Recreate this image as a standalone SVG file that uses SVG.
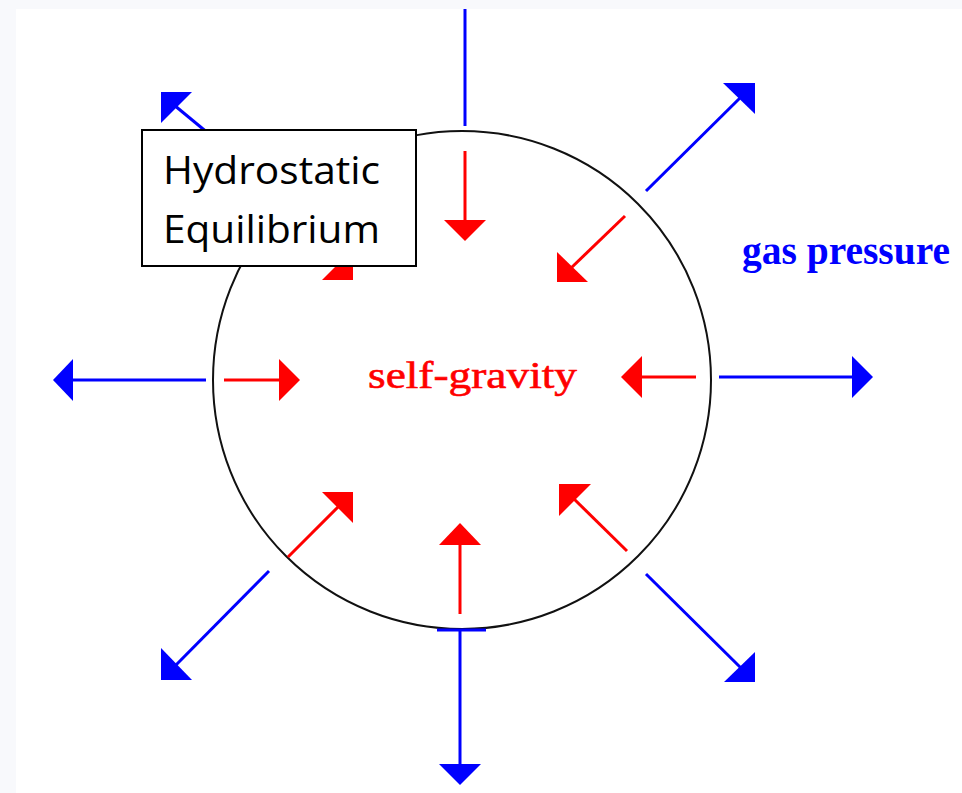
<svg xmlns="http://www.w3.org/2000/svg" width="962" height="793" viewBox="0 0 962 793">
<defs>
<style>
.blue{stroke:#0000ff;stroke-width:3;fill:none}
.red{stroke:#ff0000;stroke-width:3;fill:none}
.bh{fill:#0000ff}
.rh{fill:#ff0000}
.gas{font-family:"Liberation Serif",serif;font-weight:bold;font-size:40px;fill:#0000ff}
.grav{font-family:"Liberation Serif",serif;font-weight:normal;font-size:37px;fill:#ff0000;stroke:#ff0000;stroke-width:0.6}
.box{font-family:"Open Sans","Liberation Sans",sans-serif;font-size:39px;fill:#000}
</style>
</defs>
<rect x="0" y="0" width="962" height="793" fill="#f8f9fc"/>
<rect x="16" y="9" width="946" height="784" fill="#ffffff"/>
<g id="star">
<circle cx="462" cy="380" r="249" fill="none" stroke="#111" stroke-width="2"/>
</g>
<g id="connectors">
<line class="blue" x1="465" y1="9" x2="465" y2="126"/>
<line class="blue" x1="206" y1="380" x2="72" y2="380"/>
<polygon class="bh" points="53,380 73,359 73,401"/>
<line class="blue" x1="719" y1="377" x2="853" y2="377"/>
<polygon class="bh" points="873,377 852,356 852,398"/>
<line class="blue" x1="437" y1="630" x2="486" y2="630"/>
<line class="blue" x1="460" y1="630" x2="460" y2="765"/>
<polygon class="bh" points="460,785 439,764 481,764"/>
<line class="blue" x1="646" y1="191" x2="742" y2="96"/>
<polygon class="bh" points="755,83 723,83 755,114"/>
<line class="blue" x1="278" y1="191" x2="174" y2="105"/>
<polygon class="bh" points="161,92 192,92 161,123"/>
<line class="blue" x1="269" y1="571" x2="174" y2="667"/>
<polygon class="bh" points="161,680 161,648 192,680"/>
<line class="blue" x1="646" y1="574" x2="742" y2="669"/>
<polygon class="bh" points="755,682 755,652 724,682"/>
<line class="red" x1="465" y1="151" x2="465" y2="221"/>
<polygon class="rh" points="465,241 444,220 486,220"/>
<line class="red" x1="224" y1="380" x2="280" y2="380"/>
<polygon class="rh" points="300,380 279,359 279,401"/>
<line class="red" x1="696" y1="377" x2="641" y2="377"/>
<polygon class="rh" points="621,377 642,356 642,398"/>
<line class="red" x1="460" y1="614" x2="460" y2="544"/>
<polygon class="rh" points="460,523 439,545 481,545"/>
<line class="red" x1="625" y1="216" x2="570" y2="269"/>
<polygon class="rh" points="557,282 557,252 588,282"/>
<line class="red" x1="290" y1="217" x2="340" y2="267"/>
<polygon class="rh" points="353,280 322,280 353,249"/>
<line class="red" x1="288" y1="557" x2="340" y2="505"/>
<polygon class="rh" points="353,492 322,492 353,523"/>
<line class="red" x1="627" y1="551" x2="572" y2="497"/>
<polygon class="rh" points="559,484 591,484 559,516"/>
</g>
<g id="gas-pressure-label">
<text class="gas" x="742" y="264" textLength="208" lengthAdjust="spacingAndGlyphs">gas pressure</text>
</g>
<g id="self-gravity-label">
<text class="grav" x="368" y="388" textLength="209" lengthAdjust="spacingAndGlyphs">self-gravity</text>
</g>
<g id="title-box">
<rect x="142" y="130" width="274" height="136" fill="#ffffff" stroke="#000" stroke-width="2"/>
<text class="box" x="163" y="184" textLength="217" lengthAdjust="spacingAndGlyphs">Hydrostatic</text>
<text class="box" x="163" y="243" textLength="217" lengthAdjust="spacingAndGlyphs">Equilibrium</text>
</g>
</svg>
